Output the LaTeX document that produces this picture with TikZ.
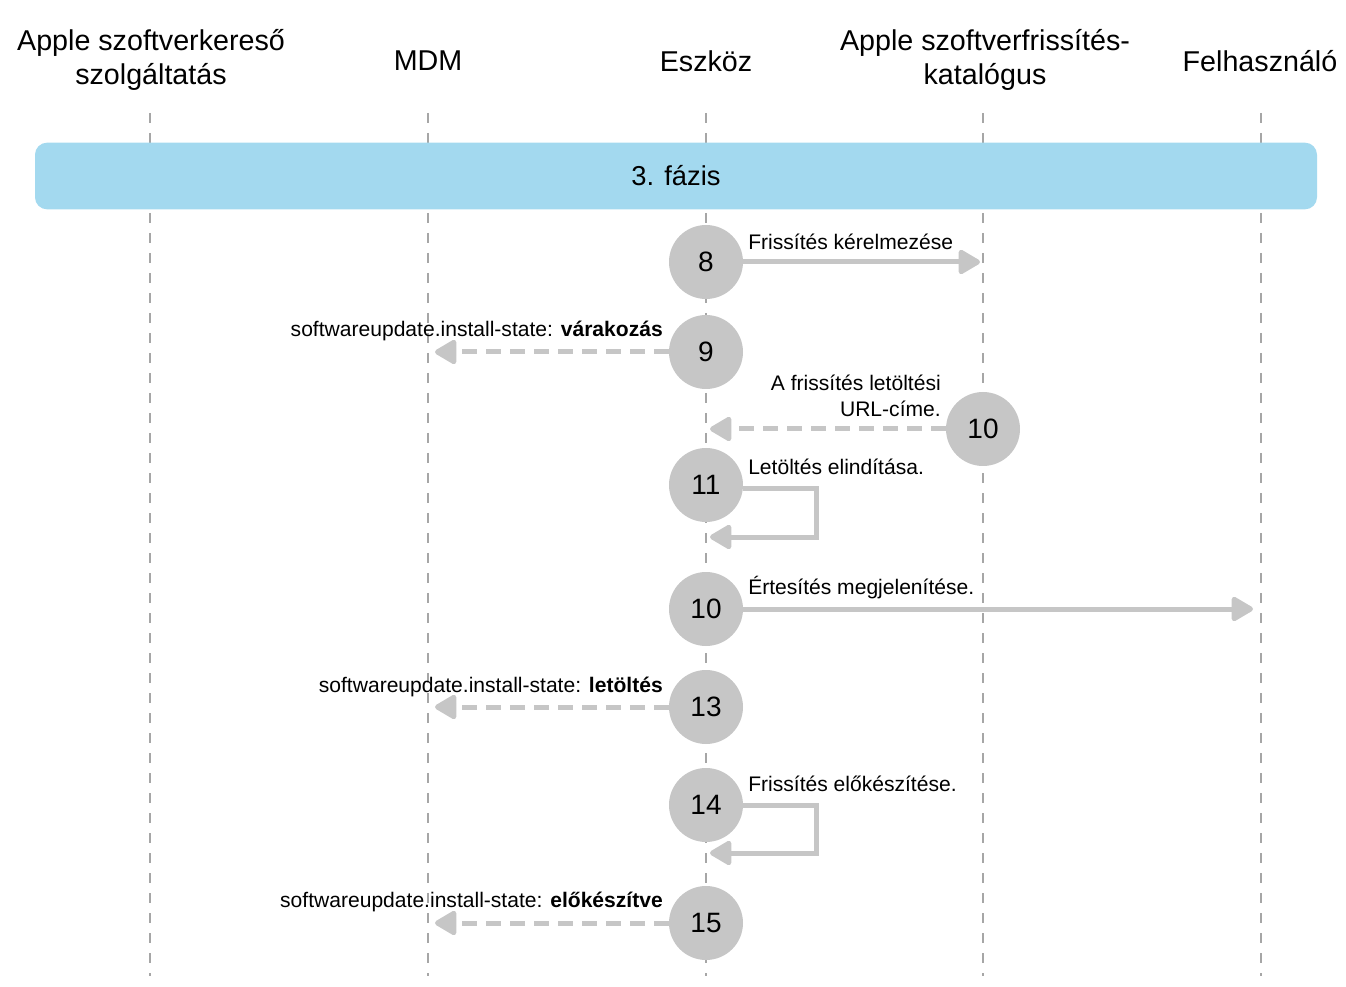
\documentclass[tikz,border=0pt]{standalone}
\usepackage{fontspec}
\setmainfont{Liberation Sans}
\usetikzlibrary{arrows.meta}
\definecolor{phaseblue}{HTML}{A3D9EF}
\definecolor{stepgray}{HTML}{C6C6C6}
\definecolor{linegray}{HTML}{A6A6A6}
\begin{document}
\begin{tikzpicture}[x=0.75pt,y=-0.75pt]
      \tikzstyle{actor} = [align=center, font=\fontsize{21.5}{25}\selectfont]
      \tikzstyle{lifeline} = [linegray, line width=0.9pt, dash pattern=on 7.5pt off 7.5pt]
      \tikzstyle{stepnum} = [circle, fill=stepgray, minimum size=55.5pt, inner sep=0pt, font=\fontsize{21}{24}\selectfont]
      \tikzstyle{msg} = [font=\fontsize{15.8}{19}\selectfont, inner sep=0pt]
      \tikzstyle{call} = [stepgray, line width=3.75pt, -{Triangle[length=18pt,width=20pt,round]}, preaction={draw=white, line width=6pt, -}]
      \tikzstyle{reply} = [call, dash pattern=on 11pt off 7pt]

      \useasboundingbox (0,0) rectangle (1346,987);

      % participants
      \node (service) [actor] at (151,60) {Apple szoftverkereső\\szolgáltatás};
      \node (mdm) [actor] at (428,61) {MDM};
      \node (device) [actor] at (706,61) {Eszköz};
      \node (catalog) [actor] at (985,60) {Apple szoftverfrissítés-\\katalógus};
      \node (user) [actor] at (1260,61) {Felhasználó};

      \foreach \x/\n in {150/service, 428/mdm, 706/device, 983/catalog, 1261/user} {
        \coordinate (\n-top) at (\x,113);
        \coordinate (\n-bot) at (\x,976);
        \draw [lifeline] (\n-top) -- (\n-bot);
      }

      % phase bar
      \node (phase) [fill=phaseblue, rounded corners=9pt, minimum width=961.5pt, minimum height=50pt, font=\fontsize{20.5}{24}\selectfont] at (676,176) {3. fázis};

      % steps
      \node (s8) [stepnum] at (706,262) {8};
      \node (s9) [stepnum] at (706,352) {9};
      \node (s10a) [stepnum] at (983,429) {10};
      \node (s11) [stepnum] at (706,485) {11};
      \node (s10b) [stepnum] at (706,609) {10};
      \node (s13) [stepnum] at (706,707) {13};
      \node (s14) [stepnum] at (706,805) {14};
      \node (s15) [stepnum] at (706,923) {15};

      \coordinate (t8) at (980,262);
      \coordinate (t9) at (435,352);
      \coordinate (t10a) at (710,429);
      \coordinate (t10b) at (1253,609);
      \coordinate (t13) at (435,707);
      \coordinate (t15) at (435,923);

      \draw [call] (s8) -- (t8);
      \draw [reply] (s9) -- (t9);
      \draw [reply] (s10a) -- (t10a);
      \draw [call] (s11.east |- 0,488) -| (816,537) -- (710,537);
      \draw [call] (s10b) -- (t10b);
      \draw [reply] (s13) -- (t13);
      \draw [call] (s14.east |- 0,805) -| (816,853) -- (710,853);
      \draw [reply] (s15) -- (t15);

      % labels
      \node (l8) [msg, anchor=west] at (748,242) {Frissítés kérelmezése};
      \node (l9) [msg, anchor=east] at (663,331) {softwareupdate.install-state: \textbf{várakozás}};
      \node (l10a) [msg, anchor=east, align=right] at (941,396) {A frissítés letöltési\\URL-címe.};
      \node (l11) [msg, anchor=west] at (748,467) {Letöltés elindítása.};
      \node (l10b) [msg, anchor=west] at (748,588) {Értesítés megjelenítése.};
      \node (l13) [msg, anchor=east] at (663,687) {softwareupdate.install-state: \textbf{letöltés}};
      \node (l14) [msg, anchor=west] at (748,784) {Frissítés előkészítése.};
      \node (l15) [msg, anchor=east] at (663,902) {softwareupdate.install-state: \textbf{előkészítve}};
    \end{tikzpicture}
\end{document}
